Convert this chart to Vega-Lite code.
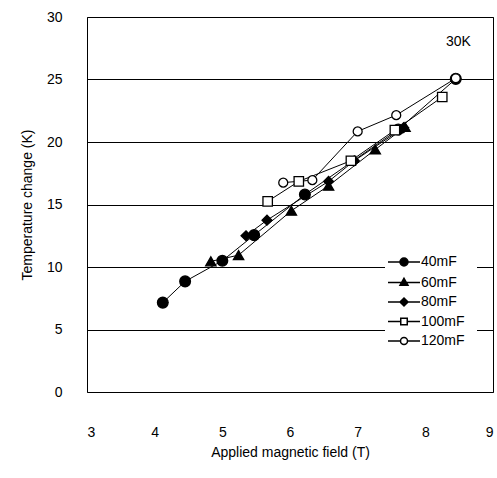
{
  "$schema": "https://vega.github.io/schema/vega-lite/v6.json",
  "width": 406,
  "height": 375,
  "autosize": {"type": "none"},
  "padding": {"left": 87, "top": 17, "right": 4, "bottom": 86},
  "background": "white",
  "config": {
    "font": "Liberation Sans",
    "view": {"stroke": "black", "strokeWidth": 1},
    "axis": {"labelFont": "Liberation Sans", "titleFont": "Liberation Sans", "labelFontSize": 14, "titleFontSize": 14, "titleFontWeight": "normal", "labelColor": "black", "titleColor": "black"}
  },
  "data": {"values": [
    {"series": "40mF", "field": 4.12, "dT": 7.15},
    {"series": "40mF", "field": 4.45, "dT": 8.85},
    {"series": "40mF", "field": 5.0, "dT": 10.5},
    {"series": "40mF", "field": 5.47, "dT": 12.55},
    {"series": "40mF", "field": 6.22, "dT": 15.8},
    {"series": "40mF", "field": 7.6, "dT": 21.0},
    {"series": "40mF", "field": 8.45, "dT": 25.05},
    {"series": "60mF", "field": 4.83, "dT": 10.45},
    {"series": "60mF", "field": 5.24, "dT": 10.95},
    {"series": "60mF", "field": 6.02, "dT": 14.5},
    {"series": "60mF", "field": 6.57, "dT": 16.5},
    {"series": "60mF", "field": 7.26, "dT": 19.4},
    {"series": "60mF", "field": 7.7, "dT": 21.2},
    {"series": "80mF", "field": 5.35, "dT": 12.5},
    {"series": "80mF", "field": 5.66, "dT": 13.75},
    {"series": "80mF", "field": 6.57, "dT": 16.85},
    {"series": "80mF", "field": 6.95, "dT": 18.5},
    {"series": "80mF", "field": 7.68, "dT": 21.15},
    {"series": "100mF", "field": 5.67, "dT": 15.25},
    {"series": "100mF", "field": 6.13, "dT": 16.85},
    {"series": "100mF", "field": 6.9, "dT": 18.5},
    {"series": "100mF", "field": 7.55, "dT": 20.95},
    {"series": "100mF", "field": 8.25, "dT": 23.6},
    {"series": "120mF", "field": 5.9, "dT": 16.75},
    {"series": "120mF", "field": 6.33, "dT": 16.95},
    {"series": "120mF", "field": 7.0, "dT": 20.85},
    {"series": "120mF", "field": 7.57, "dT": 22.15},
    {"series": "120mF", "field": 8.45, "dT": 25.1}
  ]},
  "resolve": {"scale": {"shape": "independent", "fill": "independent", "size": "independent"}},
  "layer": [
    {
      "mark": {"type": "line", "color": "black", "strokeWidth": 1},
      "encoding": {
        "x": {"field": "field", "type": "quantitative", "scale": {"domain": [3, 9], "nice": false, "zero": false},
          "axis": {"title": "Applied magnetic field (T)", "values": [3, 4, 5, 6, 7, 8, 9], "format": "d", "grid": false, "domain": false, "ticks": false, "labelPadding": 33, "titlePadding": 6}},
        "y": {"field": "dT", "type": "quantitative", "scale": {"domain": [0, 30], "nice": false},
          "axis": {"title": "Temperature change (K)", "values": [0, 5, 10, 15, 20, 25, 30], "format": "d", "grid": true, "gridColor": "black", "gridOpacity": 1, "gridWidth": 1, "domain": false, "ticks": false, "labelPadding": 25, "titlePadding": 12}},
        "detail": {"field": "series"}
      }
    },
    {
      "mark": {"type": "point", "filled": false, "stroke": "black", "strokeWidth": 1.3, "opacity": 1},
      "encoding": {
        "x": {"field": "field", "type": "quantitative"},
        "y": {"field": "dT", "type": "quantitative"},
        "shape": {"field": "series", "type": "nominal", "legend": null,
          "scale": {"domain": ["40mF", "60mF", "80mF", "100mF", "120mF"], "range": ["circle", "triangle-up", "diamond", "square", "circle"]}},
        "fill": {"field": "series", "type": "nominal", "legend": null,
          "scale": {"domain": ["40mF", "60mF", "80mF", "100mF", "120mF"], "range": ["black", "black", "black", "white", "white"]}},
        "size": {"field": "series", "type": "nominal", "legend": null,
          "scale": {"domain": ["40mF", "60mF", "80mF", "100mF", "120mF"], "range": [115, 80, 75, 95, 110]}}
      }
    },
    {
      "transform": [{"filter": "datum.dT < -100"}],
      "mark": {"type": "point", "filled": false, "stroke": "black", "strokeWidth": 1.3, "opacity": 1, "size": 100},
      "encoding": {
        "x": {"field": "field", "type": "quantitative"},
        "y": {"field": "dT", "type": "quantitative"},
        "shape": {"field": "series", "type": "nominal",
          "scale": {"domain": ["40mF", "60mF", "80mF", "100mF", "120mF"], "range": [
            "M-3.2,0H3.2M0.8,0A0.8,0.8,0,1,1,-0.8,0A0.8,0.8,0,1,1,0.8,0Z",
            "M-3.2,0H3.2M0,-0.85L0.8,0.55L-0.8,0.55Z",
            "M-3.2,0H3.2M0,-0.8L0.8,0L0,0.8L-0.8,0Z",
            "M-3.2,0H-0.65M0.65,0H3.2M-0.65,-0.65H0.65V0.65H-0.65Z",
            "M-3.2,0H-0.7M0.7,0H3.2M0.7,0A0.7,0.7,0,1,1,-0.7,0A0.7,0.7,0,1,1,0.7,0Z"]},
          "legend": {
            "title": null, "orient": "none", "legendX": 298, "legendY": 226,
            "fillColor": "white", "padding": 12, "labelFontSize": 14, "labelFont": "Liberation Sans", "labelColor": "black",
            "labelOffset": 10, "rowPadding": 5.5, "symbolSize": 100,
            "encode": {"symbols": {"update": {"stroke": {"value": "black"}, "strokeWidth": {"value": 1.3}, "strokeOpacity": {"value": 1}}}}
          }},
        "fill": {"field": "series", "type": "nominal",
          "scale": {"domain": ["40mF", "60mF", "80mF", "100mF", "120mF"], "range": ["black", "black", "black", "white", "white"]}}
      }
    },
    {
      "data": {"values": [{"label": "30K", "field": 8.49, "dT": 28.0}]},
      "mark": {"type": "text", "fontSize": 14, "font": "Liberation Sans", "color": "black", "align": "center", "baseline": "middle"},
      "encoding": {
        "text": {"field": "label"},
        "x": {"field": "field", "type": "quantitative"},
        "y": {"field": "dT", "type": "quantitative"}
      }
    }
  ]
}
